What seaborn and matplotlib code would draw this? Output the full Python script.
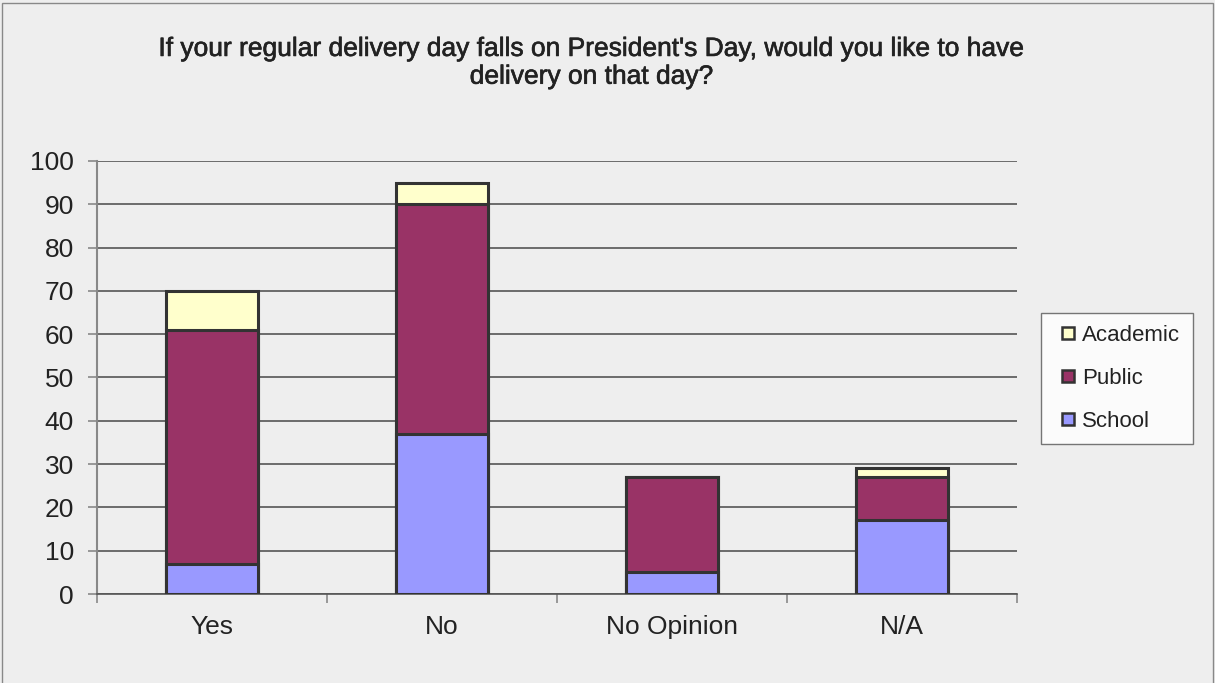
import matplotlib
matplotlib.use("Agg")
import matplotlib.pyplot as plt
import matplotlib.patheffects as pe
import pandas as pd
import seaborn as sns
from matplotlib.lines import Line2D
from matplotlib.patches import Rectangle

# Data
categories = ["Yes", "No", "No Opinion", "N/A"]
school = [7, 37, 5, 17]
public = [54, 53, 22, 10]
academic = [9, 5, 0, 2]

colors = {"School": "#9999ff", "Public": "#993366", "Academic": "#ffffcc"}
edge = "#333333"

df = pd.DataFrame({"answer": categories, "School": school,
                   "Public": public, "Academic": academic})
df["lvl_school"] = df["School"]
df["lvl_public"] = df["School"] + df["Public"]
df["lvl_academic"] = df["lvl_public"] + df["Academic"]

sns.set_style("white")
plt.rcParams["font.family"] = ["Liberation Sans", "DejaVu Sans"]
plt.rcParams["text.color"] = "#222222"

fig = plt.figure(figsize=(12.15, 6.83), dpi=100, facecolor="#eeeeee")
ax = fig.add_axes([0.0798, 0.1303, 0.7572, 0.634])
ax.set_facecolor("#eeeeee")

# stacked bars: draw cumulative totals from top layer down
for col, name in [("lvl_academic", "Academic"), ("lvl_public", "Public"), ("lvl_school", "School")]:
    sns.barplot(data=df, x="answer", y=col, order=categories, color=colors[name],
                edgecolor=edge, linewidth=2.2, width=0.4, saturation=1, ax=ax, zorder=3)

ax.set_ylim(0, 100)
ax.set_xlim(-0.5, 3.5)
ax.set_yticks(range(0, 101, 10))
ax.yaxis.grid(True, color="#555555", linewidth=1.2, zorder=0)
ax.set_axisbelow(True)
ax.tick_params(axis="y", labelsize=19, labelcolor="#222222", length=6.5, width=1.2,
               color="#888888", direction="out", pad=10, left=True)
ax.tick_params(axis="x", which="major", length=0, labelsize=19, labelcolor="#222222", pad=15)
ax.set_xticks([-0.5, 0.5, 1.5, 2.5, 3.5], minor=True)
ax.tick_params(axis="x", which="minor", length=6.5, width=1.2, color="#888888", direction="out", bottom=True)
ax.set_xlabel("")
ax.set_ylabel("")
for s in ["top", "right"]:
    ax.spines[s].set_visible(False)
ax.spines["left"].set_color("#888888")
ax.spines["left"].set_linewidth(1.5)
ax.spines["bottom"].set_color("#555555")
ax.spines["bottom"].set_linewidth(1.2)

fig.text(0.487, 0.908, "If your regular delivery day falls on President's Day, would you like to have\ndelivery on that day?",
         ha="center", va="center", fontsize=19, linespacing=1.2,
         path_effects=[pe.withStroke(linewidth=0.45, foreground="#222222")])

handles = [Line2D([], [], marker="s", linestyle="none", markersize=9, markerfacecolor=colors[n],
                  markeredgecolor=edge, markeredgewidth=1.8, label=n)
           for n in ["Academic", "Public", "School"]]
leg = fig.legend(handles=handles, loc="upper left", bbox_to_anchor=(0.857, 0.5417),
                 frameon=True, fontsize=16, handlelength=1.3, handletextpad=0.0,
                 labelspacing=0.98, borderpad=0.55, borderaxespad=0, fancybox=False)
leg.get_frame().set_edgecolor("#555555")
leg.get_frame().set_facecolor("white")
leg.get_frame().set_linewidth(1)

fig.patches.append(Rectangle((0.002, -0.01), 0.996, 1.005, transform=fig.transFigure,
                             fill=False, edgecolor="#888888", linewidth=1))

fig.savefig("out.png", dpi=100, facecolor=fig.get_facecolor())
